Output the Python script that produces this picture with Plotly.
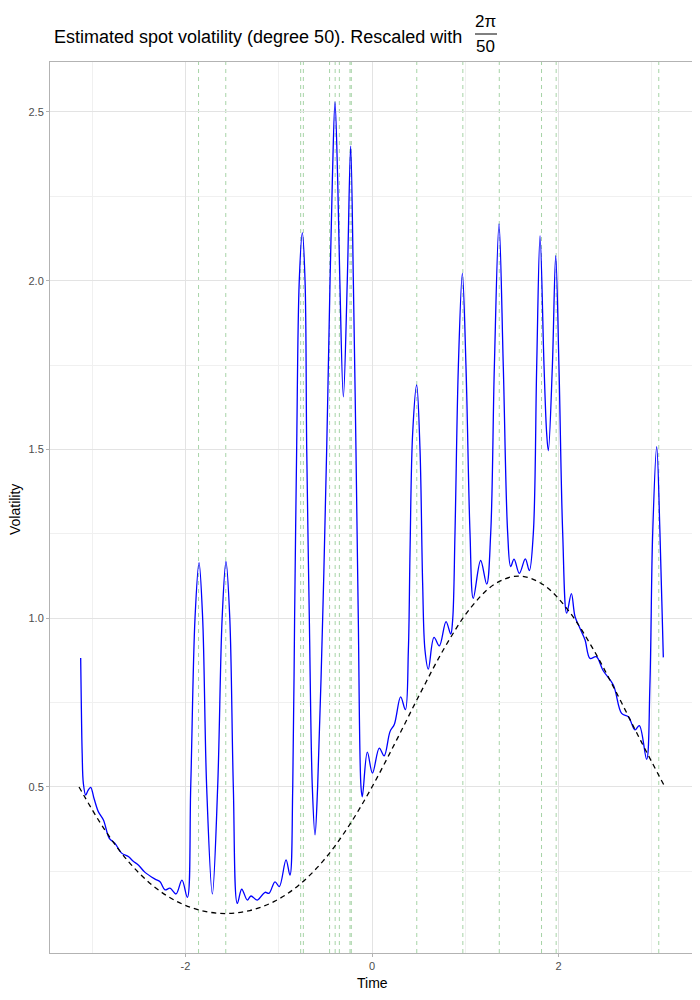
import plotly.graph_objects as go

# ---------------- data ----------------
blue_t = [-3.124, -3.118, -3.108, -3.095, -3.070, -3.045, -3.017, -2.980, -2.935, -2.880,
          -2.817, -2.756, -2.685, -2.613, -2.560, -2.506, -2.434, -2.327, -2.273, -2.220,
          -2.166, -2.102, -2.038, -1.980, -1.944, -1.898, -1.855, -1.816, -1.773, -1.712,
          -1.655, -1.607, -1.566, -1.525, -1.487, -1.444, -1.397, -1.337, -1.298, -1.230,
          -1.147, -1.105, -1.040, -0.994, -0.922, -0.880, -0.850, -0.830, -0.808, -0.780,
          -0.747, -0.718, -0.700, -0.672, -0.640, -0.611, -0.583, -0.529, -0.486, -0.450,
          -0.425, -0.397, -0.368, -0.345, -0.307, -0.265, -0.229, -0.200, -0.172, -0.147,
          -0.118, -0.104, -0.050, 0.005, 0.078, 0.130, 0.193, 0.240, 0.307, 0.358,
          0.390, 0.408, 0.436, 0.479, 0.515, 0.543, 0.568, 0.604, 0.665, 0.722,
          0.794, 0.844, 0.865, 0.890, 0.926, 0.969, 1.008, 1.051, 1.086, 1.165,
          1.230, 1.273, 1.312, 1.362, 1.408, 1.455, 1.487, 1.523, 1.580, 1.644,
          1.687, 1.730, 1.766, 1.802, 1.845, 1.873, 1.891, 1.934, 1.970, 2.005,
          2.045, 2.088, 2.138, 2.177, 2.230, 2.284, 2.338, 2.405, 2.478, 2.588,
          2.677, 2.749, 2.820, 2.867, 2.945, 2.980, 3.010, 3.053, 3.088, 3.108,
          3.124]
blue_v = [0.882, 0.760, 0.600, 0.510, 0.476, 0.490, 0.499, 0.465, 0.427, 0.402,
          0.348, 0.333, 0.304, 0.294, 0.280, 0.269, 0.247, 0.227, 0.219, 0.195,
          0.200, 0.183, 0.224, 0.173, 0.500, 1.000, 1.165, 1.000, 0.500, 0.183,
          0.500, 1.000, 1.168, 1.000, 0.500, 0.155, 0.197, 0.165, 0.177, 0.165,
          0.188, 0.185, 0.219, 0.205, 0.284, 0.239, 0.500, 1.000, 1.500, 2.000,
          2.142, 2.000, 1.500, 1.000, 0.500, 0.358, 0.500, 1.000, 1.500, 2.000,
          2.300, 2.530, 2.300, 2.000, 1.656, 2.000, 2.399, 2.000, 1.500, 1.000,
          0.500, 0.471, 0.603, 0.541, 0.615, 0.592, 0.664, 0.686, 0.767, 0.729,
          0.906, 1.202, 1.548, 1.691, 1.499, 1.104, 0.906, 0.849, 0.943, 0.918,
          0.990, 0.953, 0.995, 1.252, 1.745, 2.022, 1.745, 1.252, 1.059, 1.171,
          1.101, 1.252, 1.745, 2.168, 1.745, 1.252, 1.153, 1.175, 1.133, 1.176,
          1.141, 1.252, 1.745, 2.133, 1.745, 1.548, 1.496, 1.745, 2.074, 1.745,
          1.252, 1.015, 1.073, 1.005, 0.970, 0.936, 0.881, 0.886, 0.845, 0.802,
          0.718, 0.708, 0.669, 0.682, 0.582, 0.800, 1.252, 1.508, 1.252, 1.050,
          0.884]

true_t = [-3.1416, -2.8798, -2.6180, -2.3562, -2.0944, -1.8326, -1.5708, -1.3090, -1.0472,
          -0.7854, -0.5236, -0.2618, 0.0, 0.2618, 0.5236, 0.7854, 1.0472, 1.3090, 1.5708,
          1.8326, 2.0944, 2.3562, 2.6180, 2.8798, 3.1416]
true_v = [0.500, 0.379, 0.281, 0.209, 0.161, 0.134, 0.125, 0.134, 0.161,
          0.209, 0.281, 0.379, 0.500, 0.638, 0.781, 0.916, 1.027, 1.100, 1.125,
          1.100, 1.027, 0.916, 0.781, 0.638, 0.500]

jump_times = [-1.860, -1.568, -0.765, -0.736, -0.455, -0.395, -0.350, -0.236, -0.222,
              0.480, 0.974, 1.365, 1.818, 1.975, 3.075]

x_ticks = [-2, 0, 2]
y_ticks = [0.5, 1.0, 1.5, 2.0, 2.5]

title_text = "Estimated spot volatility (degree 50). Rescaled with"
frac_num = "2π"
frac_den = "50"
x_title = "Time"
y_title = "Volatility"

# ---------------- figure ----------------
# the page body adds an 8px offset; layout numbers below are in screen pixels
OFF = 8
W, H = 700, 1000
PL, PR, PT, PB = 50, 694, 62, 953          # panel edges on screen
L, T = PL - OFF, PT - OFF
R, B = (W + OFF) - PR, (H + OFF) - PB
pw, ph = W - L - R, H - T - B
FONT = "Liberation Sans, Arial"


def px(x):
    return (x - PL) / pw


def py(y):
    return (PB - y) / ph


fig = go.Figure()

for jt in jump_times:
    fig.add_shape(type="line", xref="x", yref="paper", x0=jt, x1=jt, y0=0, y1=1,
                  line=dict(color="rgba(60,160,60,0.45)", width=1, dash="4px,4px"),
                  layer="below")

fig.add_trace(go.Scatter(x=blue_t, y=blue_v, mode="lines",
                         line=dict(color="#0000FF", width=1.3, shape="spline", smoothing=1.0),
                         showlegend=False, hoverinfo="skip"))
fig.add_trace(go.Scatter(x=true_t, y=true_v, mode="lines",
                         line=dict(color="black", width=1.3, dash="5px,4px", shape="spline"),
                         showlegend=False, hoverinfo="skip"))

# title with a stacked fraction
fig.add_annotation(text=title_text, xref="paper", yref="paper", x=px(52), y=py(37),
                   xanchor="left", yanchor="middle", showarrow=False,
                   font=dict(family=FONT, size=18, color="black"))
fig.add_annotation(text=frac_num, xref="paper", yref="paper", x=px(486), y=py(21),
                   xanchor="center", yanchor="middle", showarrow=False,
                   font=dict(family=FONT, size=17, color="black"))
fig.add_annotation(text=frac_den, xref="paper", yref="paper", x=px(486), y=py(47),
                   xanchor="center", yanchor="middle", showarrow=False,
                   font=dict(family=FONT, size=17, color="black"))
fig.add_shape(type="line", xref="paper", yref="paper", x0=px(475), x1=px(497),
              y0=py(34), y1=py(34), line=dict(color="black", width=1))

# axis titles
fig.add_annotation(text=x_title, xref="paper", yref="paper", x=px(372), y=py(983),
                   xanchor="center", yanchor="middle", showarrow=False,
                   font=dict(family=FONT, size=14, color="black"))
fig.add_annotation(text=y_title, xref="paper", yref="paper", x=px(15), y=py(510),
                   xanchor="center", yanchor="middle", showarrow=False, textangle=-90,
                   font=dict(family=FONT, size=14, color="black"))

axis_common = dict(
    showline=True, mirror=True, linecolor="#B3B3B3", linewidth=1,
    showgrid=True, gridcolor="#E3E3E3", gridwidth=1,
    ticks="outside", ticklen=3, tickcolor="#B3B3B3", tickwidth=1,
    tickfont=dict(family=FONT, size=11, color="#4D4D4D"),
    zeroline=False, automargin=False,
)

fig.update_xaxes(range=[-3.453, 3.453], tickvals=x_ticks, ticktext=[str(v) for v in x_ticks],
                 minor=dict(tickvals=[-3, -1, 1, 3], showgrid=True, gridcolor="#F0F0F0", gridwidth=1),
                 **axis_common)
fig.update_yaxes(range=[0.0081, 2.648], tickvals=y_ticks, ticktext=[f"{v:.1f}" for v in y_ticks],
                 minor=dict(tickvals=[0.25, 0.75, 1.25, 1.75, 2.25], showgrid=True,
                            gridcolor="#F0F0F0", gridwidth=1),
                 **axis_common)

fig.update_layout(width=W, height=H, margin=dict(l=L, r=R, t=T, b=B, autoexpand=False),
                  paper_bgcolor="white", plot_bgcolor="white", showlegend=False)

fig.write_html("out.html")
